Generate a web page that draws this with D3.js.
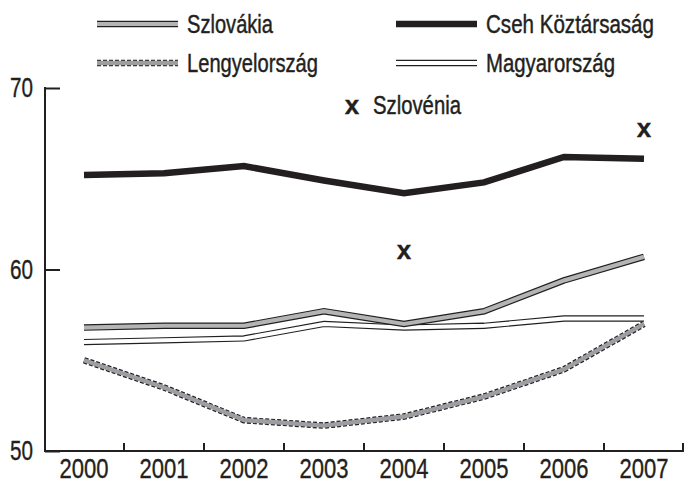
<!DOCTYPE html>
<html>
<head>
<meta charset="utf-8">
<script src="https://cdn.jsdelivr.net/npm/d3@7"></script>
<style>
  html, body { margin: 0; padding: 0; background: #fff; }
  svg { display: block; }
  text { font-family: "Liberation Sans", Arial, sans-serif; fill: #231f20; stroke: #231f20; stroke-width: 0.35px; }
</style>
</head>
<body>
<svg id="chart" width="685" height="483"></svg>
<script>
const years = ["2000", "2001", "2002", "2003", "2004", "2005", "2006", "2007"];
const szlovakia = [56.8, 56.9, 56.9, 57.7, 57.0, 57.7, 59.4, 60.7];
const cseh = [65.2, 65.3, 65.7, 64.9, 64.2, 64.8, 66.2, 66.1];
const lengyel = [55.0, 53.5, 51.7, 51.4, 51.9, 53.0, 54.5, 57.0];
const magyar = [56.0, 56.1, 56.2, 57.0, 56.8, 56.9, 57.3, 57.3];
const szlovenia = [null, null, null, null, 61.1, null, null, 67.8];
const yTicks = [50, 60, 70];
const legendNames = ["Szlovákia", "Cseh Köztársaság", "Lengyelország", "Magyarország"];
const sloveniaName = "Szlovénia";

const svg = d3.select("#chart");
const x = d3.scaleBand().domain(years).range([44, 684]);
const y = d3.scaleLinear().domain([50, 70]).range([451, 88]);
const cx = d => x(d) + x.bandwidth() / 2;

const line = d3.line().x((d, i) => cx(years[i])).y(d => y(d));

function styledPath(g, d, kind) {
  if (kind === "cseh") {
    g.append("path").attr("d", d).attr("fill", "none").attr("stroke", "#231f20").attr("stroke-width", 6.5);
  } else if (kind === "szlovakia") {
    g.append("path").attr("d", d).attr("fill", "none").attr("stroke", "#231f20").attr("stroke-width", 6.5);
    g.append("path").attr("d", d).attr("fill", "none").attr("stroke", "#b3b4b6").attr("stroke-width", 4.2);
  } else if (kind === "magyar") {
    g.append("path").attr("d", d).attr("fill", "none").attr("stroke", "#231f20").attr("stroke-width", 6.3);
    g.append("path").attr("d", d).attr("fill", "none").attr("stroke", "#ffffff").attr("stroke-width", 4.0);
  } else if (kind === "lengyel") {
    g.append("path").attr("d", d).attr("fill", "none").attr("stroke", "#231f20").attr("stroke-width", 6.6).attr("stroke-dasharray", "4,2");
    g.append("path").attr("d", d).attr("fill", "none").attr("stroke", "#9d9ea1").attr("stroke-width", 4.4);
  }
}

// Condensed label: smaller font, stretched vertically, fixed width
function condensedText(parent, tx, ty, str, width, anchor) {
  const g = parent.append("g").attr("transform", `translate(${tx},${ty}) scale(1,1.25)`);
  return g.append("text").attr("x", 0).attr("y", 0).attr("dy", "0.36em")
    .attr("font-size", 20).attr("text-anchor", anchor || "start")
    .attr("textLength", width).attr("lengthAdjust", "spacingAndGlyphs").text(str);
}

const plot = svg.append("g");
styledPath(plot.append("g"), line(lengyel), "lengyel");
styledPath(plot.append("g"), line(magyar), "magyar");
styledPath(plot.append("g"), line(szlovakia), "szlovakia");
styledPath(plot.append("g"), line(cseh), "cseh");

// Slovenia markers
szlovenia.forEach((v, i) => {
  if (v == null) return;
  svg.append("text").attr("x", cx(years[i])).attr("y", y(v)).attr("dy", "0.36em")
    .attr("text-anchor", "middle").attr("font-size", 26).attr("font-weight", "bold").text("x");
});

// X axis
const xAxis = svg.append("g").attr("transform", "translate(0,451)")
  .call(d3.axisBottom(x).tickSize(0).tickPadding(0));
xAxis.select(".domain").remove();
xAxis.selectAll("text").attr("font-size", 27).attr("y", 27).attr("dy", 0).attr("fill", "#231f20")
  .attr("textLength", 49).attr("lengthAdjust", "spacingAndGlyphs");
svg.append("line").attr("x1", 44).attr("x2", 684).attr("y1", 451).attr("y2", 451).attr("stroke", "#231f20").attr("stroke-width", 2);
const bounds = years.slice(1).map(d => x(d)).concat([x.range()[1] - 1]);
svg.selectAll(".xt").data(bounds).enter().append("line")
  .attr("x1", d => d).attr("x2", d => d).attr("y1", 451).attr("y2", 443)
  .attr("stroke", "#231f20").attr("stroke-width", 2);

// Y axis
const yAxis = svg.append("g").attr("transform", "translate(45,0)")
  .call(d3.axisRight(y).tickValues(yTicks).tickSize(15).tickFormat(d3.format("d")));
yAxis.select(".domain").remove();
yAxis.selectAll(".tick line").attr("stroke", "#231f20").attr("stroke-width", 2);
yAxis.selectAll(".tick text").attr("x", -12).attr("text-anchor", "end").attr("font-size", 27).attr("fill", "#231f20")
  .attr("textLength", 23).attr("lengthAdjust", "spacingAndGlyphs");
svg.append("line").attr("x1", 45).attr("x2", 45).attr("y1", 87).attr("y2", 452).attr("stroke", "#231f20").attr("stroke-width", 2);

// Legend
const legendItems = [
  { name: legendNames[0], kind: "szlovakia", x: 97, y: 24, w: 86 },
  { name: legendNames[1], kind: "cseh", x: 396, y: 24, w: 168 },
  { name: legendNames[2], kind: "lengyel", x: 97, y: 63, w: 131 },
  { name: legendNames[3], kind: "magyar", x: 396, y: 63, w: 129 }
];
const legendLine = d3.line();
legendItems.forEach(it => {
  const g = svg.append("g");
  styledPath(g, legendLine([[it.x, it.y], [it.x + 81, it.y]]), it.kind);
  condensedText(g, it.x + 90, it.y, it.name, it.w);
});

// Slovenia legend
svg.append("text").attr("x", 352).attr("y", 105).attr("dy", "0.36em").attr("text-anchor", "middle")
  .attr("font-size", 26).attr("font-weight", "bold").text("x");
condensedText(svg, 373, 105, sloveniaName, 88);
</script>
</body>
</html>
